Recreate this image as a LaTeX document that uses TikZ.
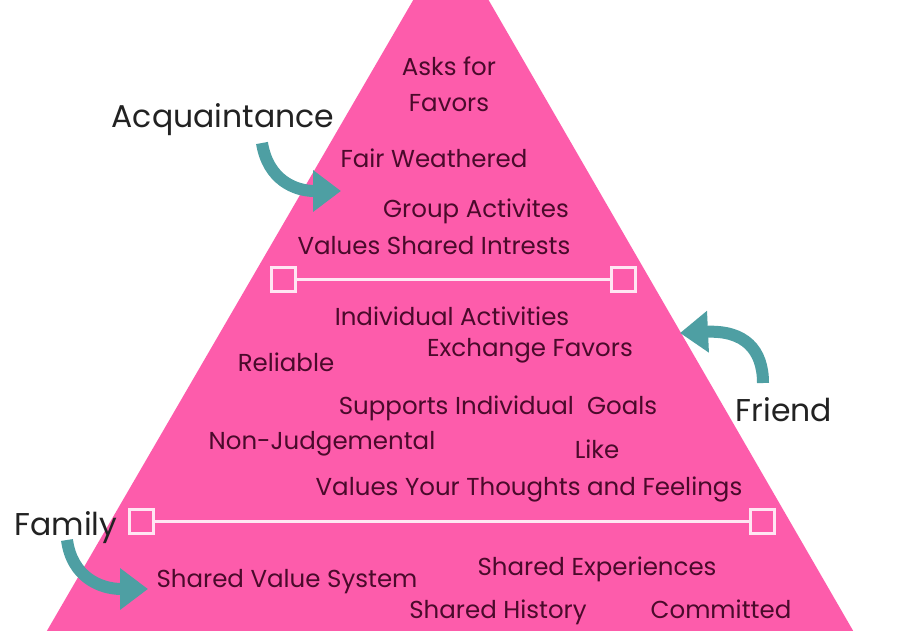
\documentclass[tikz,border=0pt]{standalone}
\usepackage{fontspec}
\setmainfont{Poppins}
\usetikzlibrary{arrows.meta}
\definecolor{pyr}{HTML}{FD5CAB}
\definecolor{ptxt}{HTML}{4A0A2B}
\definecolor{tealc}{HTML}{4E9FA3}
\definecolor{lbl}{HTML}{222222}
\definecolor{divline}{HTML}{FFE6F3}
\tikzset{
  intext/.style={anchor=base,text=ptxt,font=\fontsize{24.5}{26}\selectfont,inner sep=0pt},
  lbltext/.style={anchor=base,text=lbl,font=\fontsize{31.5}{33}\selectfont,inner sep=0pt},
  handlebox/.style={draw=divline,line width=3pt,fill=pyr,minimum size=24pt,inner sep=0pt},
  dividerline/.style={draw=divline,line width=3pt},
  curvearrow/.style={draw=tealc,line width=12pt,-{Triangle[length=28pt,width=40pt]}}
}
\begin{document}
\begin{tikzpicture}[x=1pt,y=-1pt]
\useasboundingbox (0,0) rectangle (900,630);
\clip (0,0) rectangle (900,630);
\fill[white] (0,0) rectangle (900,630);
\fill[pyr] (451,-65) -- (30,660) -- (870,660) -- cycle;
% dividers
\node[handlebox] (h1) at (283,279) {};
\node[handlebox] (h2) at (623,279) {};
\draw[dividerline] (h1) -- (h2);
\node[handlebox] (h3) at (141,521) {};
\node[handlebox] (h4) at (762,521) {};
\draw[dividerline] (h3) -- (h4);
% top tier
\node[intext] (t1) at (449,75) {Asks for};
\node[intext] (t2) at (449,111) {Favors};
\node[intext] (t3) at (434,167) {Fair Weathered};
\node[intext] (t4) at (476,217) {Group Activites};
\node[intext] (t5) at (434,254) {Values Shared Intrests};
% middle tier
\node[intext] (m1) at (452,325) {Individual Activities};
\node[intext] (m2) at (530,356) {Exchange Favors};
\node[intext] (m3) at (286,371) {Reliable};
\node[intext] (m4) at (498,414) {Supports Individual\ \ Goals};
\node[intext] (m5) at (322,449) {Non-Judgemental};
\node[intext] (m6) at (597,458) {Like};
\node[intext] (m7) at (529,495) {Values Your Thoughts and Feelings};
% bottom tier
\node[intext] (b1) at (287,587) {Shared Value System};
\node[intext] (b2) at (597,575) {Shared Experiences};
\node[intext] (b3) at (498,618) {Shared History};
\node[intext] (b4) at (721,618) {Committed};
% labels
\node[lbltext] (acq) at (223,127) {Acquaintance};
\node[lbltext] (fri) at (784,421) {Friend};
\node[lbltext] (fam) at (66,535) {Family};
% arrows
\coordinate (a0) at (262,143);
\coordinate (a1) at (341,191);
\draw[curvearrow] (a0) .. controls (268,180) and (295,191) .. (a1);
\coordinate (f0) at (763,383);
\coordinate (f1) at (680,333);
\draw[curvearrow] (f0) .. controls (763,350) and (745,330) .. (f1);
\coordinate (g0) at (67,540);
\coordinate (g1) at (148,589);
\draw[curvearrow] (g0) .. controls (72,577) and (100,589) .. (g1);
\end{tikzpicture}
\end{document}
